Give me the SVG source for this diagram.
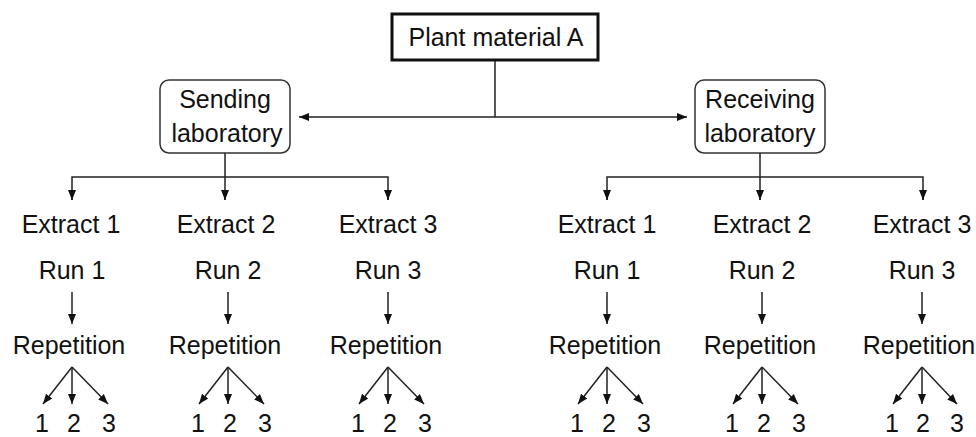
<svg xmlns="http://www.w3.org/2000/svg" width="976" height="437" viewBox="0 0 976 437">
<style>
text{font-family:"Liberation Sans",Arial,sans-serif;font-size:25px;fill:#111;text-anchor:middle}
.c line,.c path{stroke:#222;stroke-width:1.5;fill:none}
.lab{fill:#fff;stroke:#333;stroke-width:1.5}
</style>
<defs>
<marker id="ah" markerUnits="userSpaceOnUse" markerWidth="10" markerHeight="10" viewBox="0 0 10 10" refX="10" refY="5" orient="auto">
<path d="M0,1 L10,5 L0,9 Z" fill="#111"/>
</marker>
</defs>
<rect width="976" height="437" fill="#fff"/>
<g class="c" id="connectors">
<line x1="495" y1="60" x2="495" y2="117"/>
<line x1="495" y1="117" x2="299" y2="117" marker-end="url(#ah)"/>
<line x1="495" y1="117" x2="687" y2="117" marker-end="url(#ah)"/>
<line x1="225" y1="153" x2="225" y2="177"/>
<line x1="760" y1="153" x2="760" y2="177"/>
<path d="M72,200 V177 H388 V200"/>
<line x1="225" y1="177" x2="225" y2="200"/>
<path d="M607,200 V177 H923 V200"/>
<line x1="760" y1="177" x2="760" y2="200"/>
<g id="arrowheads-top">
<line x1="72" y1="190" x2="72" y2="200" marker-end="url(#ah)"/>
<line x1="225" y1="190" x2="225" y2="200" marker-end="url(#ah)"/>
<line x1="388" y1="190" x2="388" y2="200" marker-end="url(#ah)"/>
<line x1="607" y1="190" x2="607" y2="200" marker-end="url(#ah)"/>
<line x1="760" y1="190" x2="760" y2="200" marker-end="url(#ah)"/>
<line x1="923" y1="190" x2="923" y2="200" marker-end="url(#ah)"/>
</g>
<g id="run-arrows">
<line x1="72" y1="292" x2="72" y2="324" marker-end="url(#ah)"/>
<line x1="228" y1="292" x2="228" y2="324" marker-end="url(#ah)"/>
<line x1="388" y1="292" x2="388" y2="324" marker-end="url(#ah)"/>
<line x1="607" y1="292" x2="607" y2="324" marker-end="url(#ah)"/>
<line x1="762" y1="292" x2="762" y2="324" marker-end="url(#ah)"/>
<line x1="922" y1="292" x2="922" y2="324" marker-end="url(#ah)"/>
</g>
<g id="fans">
<line x1="72" y1="367" x2="43" y2="404" marker-end="url(#ah)"/><line x1="72" y1="367" x2="72" y2="404" marker-end="url(#ah)"/><line x1="72" y1="367" x2="108" y2="404" marker-end="url(#ah)"/>
<line x1="228" y1="367" x2="199" y2="404" marker-end="url(#ah)"/><line x1="228" y1="367" x2="228" y2="404" marker-end="url(#ah)"/><line x1="228" y1="367" x2="264" y2="404" marker-end="url(#ah)"/>
<line x1="388" y1="367" x2="359" y2="404" marker-end="url(#ah)"/><line x1="388" y1="367" x2="388" y2="404" marker-end="url(#ah)"/><line x1="388" y1="367" x2="424" y2="404" marker-end="url(#ah)"/>
<line x1="607" y1="367" x2="578" y2="404" marker-end="url(#ah)"/><line x1="607" y1="367" x2="607" y2="404" marker-end="url(#ah)"/><line x1="607" y1="367" x2="643" y2="404" marker-end="url(#ah)"/>
<line x1="762" y1="367" x2="733" y2="404" marker-end="url(#ah)"/><line x1="762" y1="367" x2="762" y2="404" marker-end="url(#ah)"/><line x1="762" y1="367" x2="798" y2="404" marker-end="url(#ah)"/>
<line x1="922" y1="367" x2="893" y2="404" marker-end="url(#ah)"/><line x1="922" y1="367" x2="922" y2="404" marker-end="url(#ah)"/><line x1="922" y1="367" x2="957" y2="404" marker-end="url(#ah)"/>
</g>
</g>
<g id="plant">
<rect x="392" y="14" width="206" height="46" fill="#fff" stroke="#111" stroke-width="3"/>
<text x="496" y="46">Plant material A</text>
</g>
<g id="sending">
<rect class="lab" x="160" y="80" width="130" height="73" rx="9"/>
<text x="225" y="108">Sending</text>
<text x="227" y="142">laboratory</text>
</g>
<g id="receiving">
<rect class="lab" x="695" y="80" width="130" height="73" rx="9"/>
<text x="760" y="108">Receiving</text>
<text x="760" y="142">laboratory</text>
</g>
<g id="col1"><text x="71" y="233">Extract 1</text><text x="72" y="279">Run 1</text><text x="69" y="354">Repetition</text><text x="42" y="432">1</text><text x="74" y="432">2</text><text x="109" y="432">3</text></g>
<g id="col2"><text x="226" y="233">Extract 2</text><text x="228" y="279">Run 2</text><text x="225" y="354">Repetition</text><text x="198" y="432">1</text><text x="230" y="432">2</text><text x="265" y="432">3</text></g>
<g id="col3"><text x="388" y="233">Extract 3</text><text x="388" y="279">Run 3</text><text x="386" y="354">Repetition</text><text x="358" y="432">1</text><text x="390" y="432">2</text><text x="425" y="432">3</text></g>
<g id="col4"><text x="607" y="233">Extract 1</text><text x="607" y="279">Run 1</text><text x="605" y="354">Repetition</text><text x="577" y="432">1</text><text x="609" y="432">2</text><text x="644" y="432">3</text></g>
<g id="col5"><text x="762" y="233">Extract 2</text><text x="762" y="279">Run 2</text><text x="760" y="354">Repetition</text><text x="732" y="432">1</text><text x="764" y="432">2</text><text x="799" y="432">3</text></g>
<g id="col6"><text x="922" y="233">Extract 3</text><text x="922" y="279">Run 3</text><text x="919" y="354">Repetition</text><text x="892" y="432">1</text><text x="923" y="432">2</text><text x="957" y="432">3</text></g>
</svg>
